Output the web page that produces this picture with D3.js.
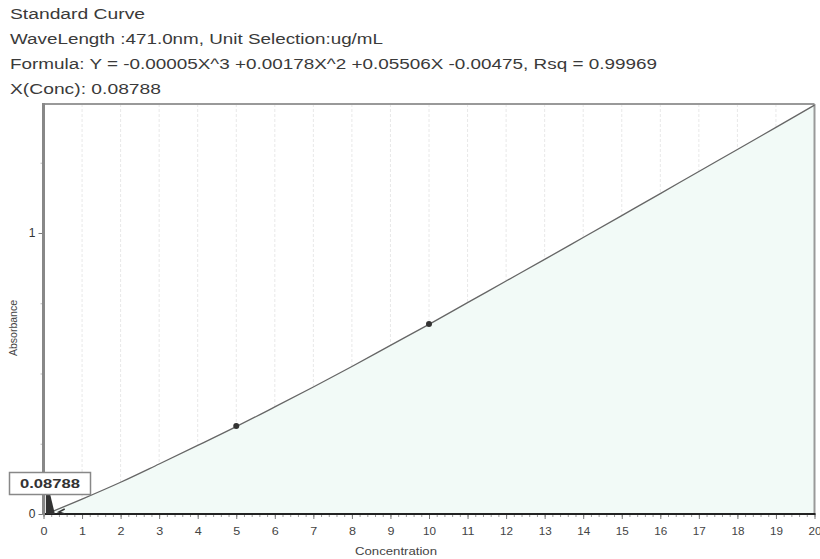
<!DOCTYPE html>
<html><head><meta charset="utf-8">
<script src="https://cdn.jsdelivr.net/npm/d3@7"></script>
<style>
body{margin:0;background:#fff;}
svg{display:block;font-family:"Liberation Sans",Arial,sans-serif;}
</style></head>
<body><svg id="c" width="820" height="559"></svg>
<script>
const headerLines = [
  "Standard Curve",
  "WaveLength :471.0nm, Unit Selection:ug/mL",
  "Formula: Y = -0.00005X^3 +0.00178X^2 +0.05506X -0.00475, Rsq = 0.99969",
  "X(Conc): 0.08788"
];
const headerWidths = [135, 373, 647, 151];
const xTickValues = d3.range(0, 21);
const yTickLabels = [0, 1];
const curveConc = d3.range(0, 21);
const curveAbs = [-0.004,0.053,0.113,0.178,0.244,0.311,0.381,0.452,0.525,0.600,0.675,0.752,0.829,0.906,0.984,1.062,1.140,1.219,1.297,1.376,1.455];
const stdConc = [5, 10];
const stdAbs = [0.313, 0.676];
const sampleConc = 0.08788;
const sampleLabel = "0.08788";

const svg = d3.select("#c");
const L = 43.5, R = 814.5, T = 104, B = 514;
const x = d3.scaleLinear().domain([0, 20]).range([L, R]);
const y = d3.scaleLinear().domain([0, 1.459]).range([B, T]);

// header
headerLines.forEach((t, i) => {
  svg.append("text").attr("x", 10).attr("y", 19 + i * 25)
    .attr("font-size", 14).attr("fill", "#3a3a3a")
    .attr("textLength", headerWidths[i]).attr("lengthAdjust", "spacingAndGlyphs")
    .text(t);
});

// grid
svg.append("g").selectAll("line").data(xTickValues.slice(1, -1)).join("line")
  .attr("x1", d => x(d)).attr("x2", d => x(d)).attr("y1", T).attr("y2", B)
  .attr("stroke", "#e8e8e8").attr("stroke-width", 1).attr("stroke-dasharray", "3,2");

// area under curve
const pts = curveConc.map((c, i) => [c, curveAbs[i]]);
svg.append("path").datum(pts)
  .attr("d", d3.area().x(d => x(d[0])).y0(B).y1(d => y(Math.max(0, d[1]))).curve(d3.curveMonotoneX))
  .attr("fill", "#f2faf7");

// frame
svg.append("line").attr("x1", L).attr("x2", R).attr("y1", T).attr("y2", T).attr("stroke", "#999").attr("stroke-width", 2);
svg.append("line").attr("x1", R).attr("x2", R).attr("y1", T).attr("y2", B).attr("stroke", "#999").attr("stroke-width", 2);

// curve
svg.append("path").datum(pts)
  .attr("d", d3.line().x(d => x(d[0])).y(d => y(Math.max(-0.012, d[1]))).curve(d3.curveMonotoneX))
  .attr("fill", "none").attr("stroke", "#666").attr("stroke-width", 1.3);

// points
svg.append("g").selectAll("circle").data(stdConc).join("circle")
  .attr("cx", d => x(d)).attr("cy", (d, i) => y(stdAbs[i])).attr("r", 3).attr("fill", "#333");

// x axis
const xAxisG = svg.append("g").attr("transform", `translate(0,${B})`);
xAxisG.call(d3.axisBottom(x).tickValues(d3.range(0, 20.01, 0.2)).tickSize(3).tickFormat(""))
  .call(g => g.select(".domain").remove())
  .call(g => g.selectAll("line").attr("stroke", "#999"));
const xMaj = svg.append("g").attr("transform", `translate(0,${B})`);
xMaj.call(d3.axisBottom(x).tickValues(xTickValues).tickSize(5).tickPadding(8).tickFormat(d3.format("d")))
  .call(g => g.select(".domain").remove())
  .call(g => g.selectAll("line").attr("stroke", "#777"))
  .call(g => g.selectAll("text").attr("font-size", 11).attr("fill", "#444")
    .attr("font-family", "'Liberation Sans',Arial,sans-serif"));
xMaj.selectAll(".tick").each(function(d){
  d3.select(this).select("text").attr("textLength", d >= 10 ? 13 : 7).attr("lengthAdjust", "spacingAndGlyphs");
});
svg.append("line").attr("x1", L).attr("x2", R + 1).attr("y1", B).attr("y2", B).attr("stroke", "#222").attr("stroke-width", 2);

// y axis
const yAxisG = svg.append("g").attr("transform", `translate(${L},0)`);
yAxisG.call(d3.axisLeft(y).tickValues([0.25, 0.5, 0.75, 1.25]).tickSize(3).tickFormat(""))
  .call(g => g.select(".domain").remove())
  .call(g => g.selectAll("line").attr("stroke", "#bbb"));
const yMaj = svg.append("g").attr("transform", `translate(${L},0)`);
yMaj.call(d3.axisLeft(y).tickValues(yTickLabels).tickSize(5).tickPadding(3).tickFormat(d3.format("d")))
  .call(g => g.select(".domain").remove())
  .call(g => g.selectAll("line").attr("stroke", "#777"))
  .call(g => g.selectAll("text").attr("font-size", 12).attr("fill", "#333")
    .attr("font-family", "'Liberation Sans',Arial,sans-serif"));
svg.append("line").attr("x1", L).attr("x2", L).attr("y1", T - 1).attr("y2", B + 1).attr("stroke", "#888").attr("stroke-width", 3);

// axis titles
svg.append("text").attr("x", 396).attr("y", 555).attr("text-anchor", "middle")
  .attr("font-size", 11).attr("fill", "#444").attr("textLength", 82).attr("lengthAdjust", "spacingAndGlyphs")
  .text("Concentration");
svg.append("text").attr("transform", "translate(17,328) rotate(-90)").attr("text-anchor", "middle")
  .attr("font-size", 10).attr("fill", "#444").attr("textLength", 56).attr("lengthAdjust", "spacingAndGlyphs")
  .text("Absorbance");

// sample marker spike
const sx = x(sampleConc);
svg.append("path")
  .attr("d", `M${sx - 1},${B} L${sx - 1},${B - 27} L${sx + 1.5},${B - 27} L${sx + 8},${B} Z`)
  .attr("fill", "#333");
svg.append("path")
  .attr("d", `M${x(0.55)},${B - 5} l-6,3 l6,2`)
  .attr("fill", "none").attr("stroke", "#333").attr("stroke-width", 1.5);

// sample label box
svg.append("rect").attr("x", 9.5).attr("y", 472.5).attr("width", 81).attr("height", 22)
  .attr("fill", "#fff").attr("stroke", "#888").attr("stroke-width", 1.5);
svg.append("text").attr("x", 50).attr("y", 488).attr("text-anchor", "middle")
  .attr("font-size", 12).attr("font-weight", "bold").attr("fill", "#333")
  .attr("textLength", 60).attr("lengthAdjust", "spacingAndGlyphs")
  .text(sampleLabel);
</script></body></html>
